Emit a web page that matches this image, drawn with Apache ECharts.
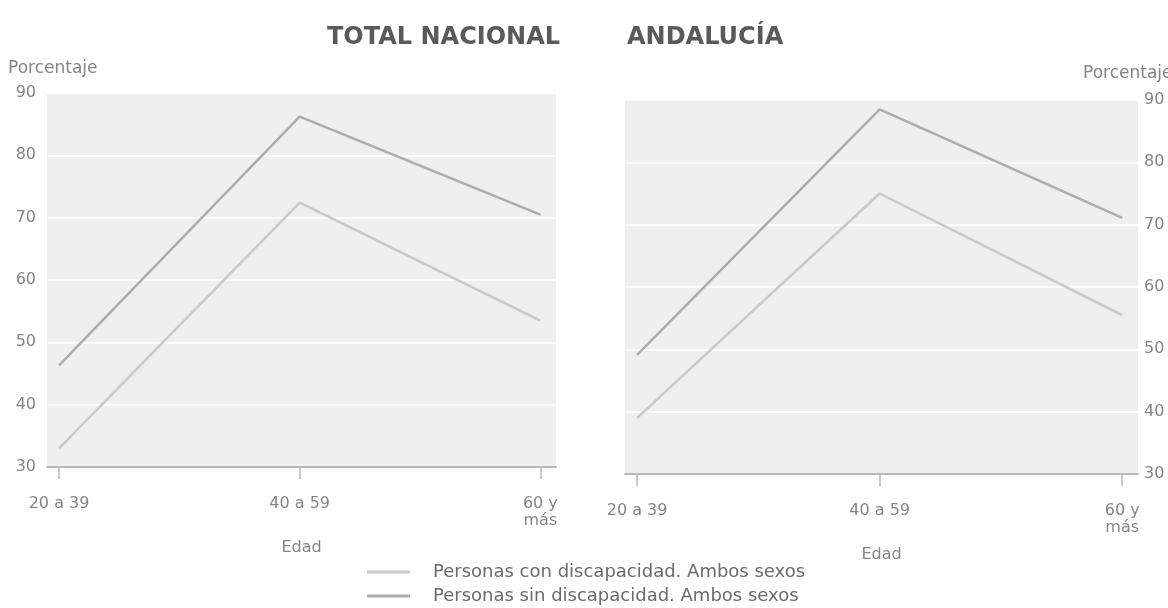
<!DOCTYPE html>
<html>
<head>
<meta charset="utf-8">
<script src="https://cdn.jsdelivr.net/npm/echarts@6/dist/echarts.min.js"></script>
<style>
  html, body { margin: 0; padding: 0; background: #fff; }
  #chart { width: 1168px; height: 608px; }
</style>
</head>
<body>
<div id="chart"></div>
<script>
const ageGroups = ['20 a 39', '40 a 59', '60 y\nmás'];
const yTicks = [30, 40, 50, 60, 70, 80, 90];

// TOTAL NACIONAL
const nacionalCon = [33, 72.4, 53.5];
const nacionalSin = [46.3, 86.2, 70.5];
// ANDALUCÍA
const andaluciaCon = [39, 75, 55.5];
const andaluciaSin = [49.1, 88.5, 71.1];

const seriesNames = ['Personas con discapacidad. Ambos sexos', 'Personas sin discapacidad. Ambos sexos'];
const colorCon = '#c9c9c9';
const colorSin = '#adadad';

const font = '"DejaVu Sans", "Liberation Sans", Arial, sans-serif';
const textColor = '#858585';

function toPoints(values) {
  return values.map((v, i) => [i, v]);
}

function xAxisFor(gridIndex) {
  return {
    type: 'value',
    gridIndex: gridIndex,
    min: -0.05,
    max: 2.065,
    name: 'Edad',
    nameLocation: 'middle',
    nameGap: 73,
    nameTextStyle: { color: textColor, fontSize: 16, fontFamily: font },
    axisLine: { show: true, lineStyle: { color: '#b8b8b8', width: 2 } },
    axisTick: { show: true, customValues: [0, 1, 2], length: 12, lineStyle: { color: '#b8b8b8', width: 1.5 } },
    axisLabel: {
      customValues: [0, 1, 2],
      formatter: v => ageGroups[Math.round(v)],
      color: textColor, fontSize: 16, fontFamily: font, margin: 28, lineHeight: 17
    },
    splitLine: { show: false }
  };
}

function yAxisFor(gridIndex, position) {
  return {
    type: 'value',
    gridIndex: gridIndex,
    position: position,
    min: 30,
    max: 90,
    interval: 10,
    axisLine: { show: false },
    axisTick: { show: false },
    axisLabel: {
      color: textColor, fontSize: 16, fontFamily: font, margin: position === 'left' ? 11 : 6,
      formatter: v => yTicks.indexOf(v) >= 0 ? String(v) : ''
    },
    splitLine: { show: true, lineStyle: { color: '#ffffff', width: 1.5 } }
  };
}

function lineSeries(name, values, color, gridIndex) {
  return {
    name: name,
    type: 'line',
    xAxisIndex: gridIndex,
    yAxisIndex: gridIndex,
    data: toPoints(values),
    symbol: 'none',
    lineStyle: { color: color, width: 2.5 },
    itemStyle: { color: color },
    z: 3
  };
}

const chart = echarts.init(document.getElementById('chart'), null, { renderer: 'canvas' });

const titleStyle = { color: '#5a5a5a', fontSize: 24, fontWeight: 'bold', fontFamily: font };
const unitStyle = { color: textColor, fontSize: 17, fontWeight: 'normal', fontFamily: font };

const option = {
  backgroundColor: '#ffffff',
  animation: false,
  title: [
    { text: 'TOTAL NACIONAL', left: 327, top: 26, padding: 0, textStyle: titleStyle },
    { text: 'ANDALUCÍA', left: 627, top: 26, padding: 0, textStyle: titleStyle },
    { text: 'Porcentaje', left: 8, top: 60, padding: 0, textStyle: unitStyle },
    { text: 'Porcentaje', left: 1083, top: 65, padding: 0, textStyle: unitStyle }
  ],
  legend: {
    data: seriesNames,
    orient: 'vertical',
    left: 367,
    top: 562,
    padding: 0,
    icon: 'rect',
    itemWidth: 43,
    itemHeight: 3,
    itemGap: 4,
    selectedMode: false,
    textStyle: { color: '#6a6a6a', fontSize: 18, fontFamily: font, lineHeight: 20, padding: [0, 0, 0, 18] }
  },
  grid: [
    { left: 47, top: 93, width: 509, height: 374, show: true, backgroundColor: '#efefef', borderWidth: 0 },
    { left: 625, top: 100, width: 513, height: 374, show: true, backgroundColor: '#efefef', borderWidth: 0 }
  ],
  xAxis: [xAxisFor(0), xAxisFor(1)],
  yAxis: [yAxisFor(0, 'left'), yAxisFor(1, 'right')],
  series: [
    lineSeries(seriesNames[0], nacionalCon, colorCon, 0),
    lineSeries(seriesNames[1], nacionalSin, colorSin, 0),
    lineSeries(seriesNames[0], andaluciaCon, colorCon, 1),
    lineSeries(seriesNames[1], andaluciaSin, colorSin, 1)
  ]
};

chart.setOption(option);
</script>
</body>
</html>
